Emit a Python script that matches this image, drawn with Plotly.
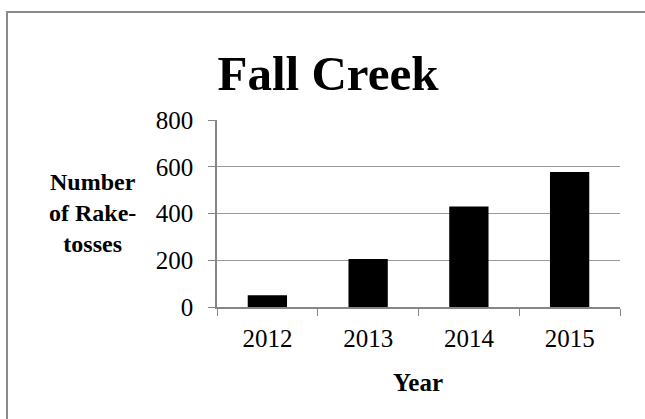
import plotly.graph_objects as go

years = ["2012", "2013", "2014", "2015"]
rake_tosses = [50, 205, 430, 578]
y_ticks = [0, 200, 400, 600, 800]

W, H = 645, 419
L, R, T, B = 217, 25, 120, 112
pw, ph = W - L - R, H - T - B

def px_x(x):
    return (x - L) / pw

def px_y(y):
    return (H - B - y) / ph

serif = "Liberation Serif, Times New Roman, serif"
axis_col = "#868686"

fig = go.Figure(go.Bar(x=years, y=rake_tosses, marker=dict(color="black", line=dict(width=0)), width=0.39))

frame_path = "M {:.5f},{:.5f} L {:.5f},{:.5f} L {:.5f},{:.5f}".format(
    px_x(7), px_y(419), px_x(7), px_y(12), px_x(645), px_y(12))

fig.update_layout(
    width=W, height=H,
    margin=dict(l=L, r=R, t=T, b=B),
    paper_bgcolor="white", plot_bgcolor="white",
    showlegend=False,
    font=dict(family=serif, color="black", size=25),
    title=dict(text="<b>Fall Creek</b>", font=dict(family=serif, size=49, color="black"),
               x=328 / W, xanchor="center", xref="container", yref="container", y=1 - 73 / H, yanchor="middle"),
    xaxis=dict(type="category", tickson="boundaries", ticks="outside", ticklen=7, tickcolor=axis_col,
               showline=True, linecolor=axis_col, linewidth=1.5, showgrid=False,
               tickfont=dict(size=25, family=serif), ticklabelstandoff=8),
    yaxis=dict(range=[0, 800], tickvals=y_ticks, ticks="outside", ticklen=7, tickcolor=axis_col,
               showline=True, linecolor=axis_col, linewidth=1.5, showgrid=True, gridcolor="#9a9a9a",
               gridwidth=1, zeroline=False, tickfont=dict(size=25, family=serif), ticklabelstandoff=10),
    annotations=[
        dict(text="<b>Number<br>of Rake-<br>tosses</b>", xref="paper", yref="paper", x=px_x(92), y=px_y(213),
             xanchor="center", yanchor="middle", showarrow=False, align="center",
             font=dict(family=serif, size=24, color="black")),
        dict(text="<b>Year</b>", xref="paper", yref="paper", x=px_x(418), y=px_y(382),
             xanchor="center", yanchor="middle", showarrow=False,
             font=dict(family=serif, size=25, color="black")),
    ],
    shapes=[
        dict(type="path", xref="paper", yref="paper", path=frame_path,
             line=dict(color="#8a8a8a", width=2), layer="below"),
    ],
)

fig.write_html("out.html", config={"displayModeBar": False},
               post_script="document.body.style.margin='0px';document.body.style.overflow='hidden';")
